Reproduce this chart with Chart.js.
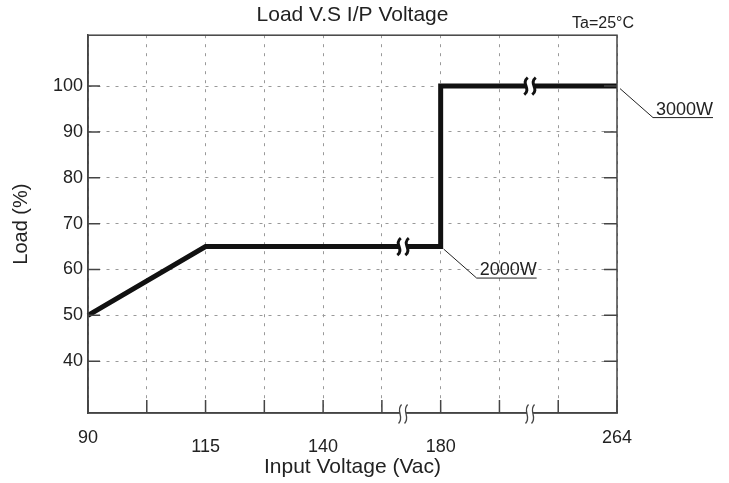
<!DOCTYPE html>
<html>
<head>
<meta charset="utf-8">
<script src="https://cdn.jsdelivr.net/npm/chart.js@4"></script>
<style>
  html, body { margin: 0; padding: 0; background: #fff; }
  #wrap { width: 729px; height: 483px; }
</style>
</head>
<body>
<div id="wrap"><canvas id="chart" width="729" height="483"></canvas></div>
<script>
// Voltage axis has breaks, so it is laid out by position (category), not by value
const voltageLabels = ['90', '', '115', '', '140', '', '180', '', '', '264'];
const loadTicks = [40, 50, 60, 70, 80, 90, 100];

// Derating curve
const curveVoltage = ['90', '115', '180', '180', '264'];
const curveLoad = [50, 65, 65, 100, 100];

// Break marks (category index position) and the load level where the curve crosses them
const breakPositions = [5.36, 7.52];
const breakLevels = [65, 100];

// Callouts
const calloutText = ['2000W', '3000W'];
const calloutVoltage = ['180', '264'];
const calloutLoad = [65, 100];

const FONT = "'Liberation Sans', Arial, sans-serif";
const INK = '#222';
const AXIS = '#444';

function squiggle(ctx, x, y, h, w) {
  ctx.beginPath();
  ctx.moveTo(x + w * 0.5, y - h / 2);
  ctx.bezierCurveTo(x - w * 1.6, y - h / 6, x + w * 1.6, y + h / 6, x - w * 0.5, y + h / 2);
  ctx.stroke();
}

const decorations = {
  id: 'decorations',
  afterDraw(chart) {
    const { ctx, chartArea: a } = chart;
    const xs = chart.scales.x, ys = chart.scales.y;
    ctx.save();

    // frame
    ctx.strokeStyle = AXIS;
    ctx.lineWidth = 1.5;
    ctx.strokeRect(a.left, a.top, a.right - a.left, a.bottom - a.top);

    // inner ticks
    ctx.lineWidth = 1.5;
    ctx.beginPath();
    voltageLabels.forEach((_, i) => {
      const px = xs.getPixelForValue(i);
      ctx.moveTo(px, a.bottom);
      ctx.lineTo(px, a.bottom - 13);
    });
    loadTicks.forEach(v => {
      const py = ys.getPixelForValue(v);
      ctx.moveTo(a.left, py);
      ctx.lineTo(a.left + 12, py);
      ctx.moveTo(a.right, py);
      ctx.lineTo(a.right - 13, py);
    });
    ctx.stroke();

    // axis breaks
    breakPositions.forEach((pos, i) => {
      const px = xs.getPixelForValue(pos);
      // on the x axis
      ctx.fillStyle = '#fff';
      ctx.fillRect(px - 3, a.bottom - 2, 6, 4);
      ctx.strokeStyle = AXIS;
      ctx.lineWidth = 1.3;
      squiggle(ctx, px - 3, a.bottom + 1, 19, 3);
      squiggle(ctx, px + 3, a.bottom + 1, 19, 3);
      // on the curve
      const py = ys.getPixelForValue(breakLevels[i]);
      ctx.fillStyle = '#fff';
      ctx.fillRect(px - 4, py - 4, 8, 8);
      ctx.strokeStyle = '#111';
      ctx.lineWidth = 3;
      squiggle(ctx, px - 4, py, 17, 3.5);
      squiggle(ctx, px + 4, py, 17, 3.5);
    });

    // callouts
    ctx.strokeStyle = '#222';
    ctx.lineWidth = 1;
    ctx.fillStyle = INK;
    ctx.font = '18px ' + FONT;
    ctx.textAlign = 'left';
    ctx.textBaseline = 'alphabetic';
    calloutText.forEach((t, i) => {
      const x0 = xs.getPixelForValue(calloutVoltage[i]) + 3;
      const y0 = ys.getPixelForValue(calloutLoad[i]) + 2.5;
      const x1 = x0 + 33, y1 = y0 + 29;
      ctx.beginPath();
      ctx.moveTo(x0, y0);
      ctx.lineTo(x1, y1);
      ctx.lineTo(x1 + 60, y1);
      ctx.stroke();
      ctx.fillText(t, x1 + 3, y1 - 3);
    });

    // ambient note
    ctx.font = '16px ' + FONT;
    ctx.textAlign = 'right';
    ctx.fillText('Ta=25°C', 634, 28);
    ctx.restore();
  }
};

new Chart(document.getElementById('chart'), {
  type: 'line',
  data: {
    labels: voltageLabels,
    datasets: [{
      data: curveVoltage.map((v, i) => ({ x: v, y: curveLoad[i] })),
      borderColor: '#111',
      borderWidth: 5,
      borderJoinStyle: 'miter',
      borderCapStyle: 'butt',
      pointRadius: 0,
      tension: 0,
      fill: false
    }]
  },
  options: {
    responsive: false,
    animation: false,
    layout: { padding: { top: 0, right: 112, left: 0, bottom: 0 } },
    plugins: {
      legend: { display: false },
      tooltip: { enabled: false },
      title: {
        display: true,
        text: 'Load V.S I/P Voltage',
        fullSize: false,
        color: INK,
        font: { family: FONT, size: 21, weight: 'normal' },
        padding: { top: 3, bottom: 7 }
      }
    },
    scales: {
      x: {
        type: 'category',
        offset: false,
        afterFit: s => { s.height = 70; },
        grid: { color: '#999', lineWidth: 1, drawTicks: false },
        border: { color: AXIS, width: 1.5, dash: [3, 6] },
        ticks: {
          autoSkip: false,
          maxRotation: 0,
          padding: 14,
          color: INK,
          // end labels sit a little higher than the inner ones
          font: c => {
            const edge = c.index === 0 || c.index === voltageLabels.length - 1;
            return { family: FONT, size: 18, lineHeight: edge ? 1.2 : 2.2 };
          }
        },
        title: {
          display: true,
          text: 'Input Voltage (Vac)',
          color: INK,
          font: { family: FONT, size: 21 },
          padding: { top: 0, bottom: 3.4 }
        }
      },
      y: {
        min: 28.7,
        max: 111.1,
        afterFit: s => { s.width = 88; },
        afterBuildTicks: s => { s.ticks = loadTicks.map(v => ({ value: v })); },
        grid: { color: '#999', lineWidth: 1, drawTicks: false },
        border: { color: AXIS, width: 1.5, dash: [3, 6] },
        ticks: {
          padding: 5,
          color: INK,
          font: { family: FONT, size: 18 }
        },
        title: {
          display: true,
          text: 'Load (%)',
          color: INK,
          font: { family: FONT, size: 20 },
          padding: { top: 9, bottom: 0 }
        }
      }
    }
  },
  plugins: [decorations]
});
</script>
</body>
</html>
